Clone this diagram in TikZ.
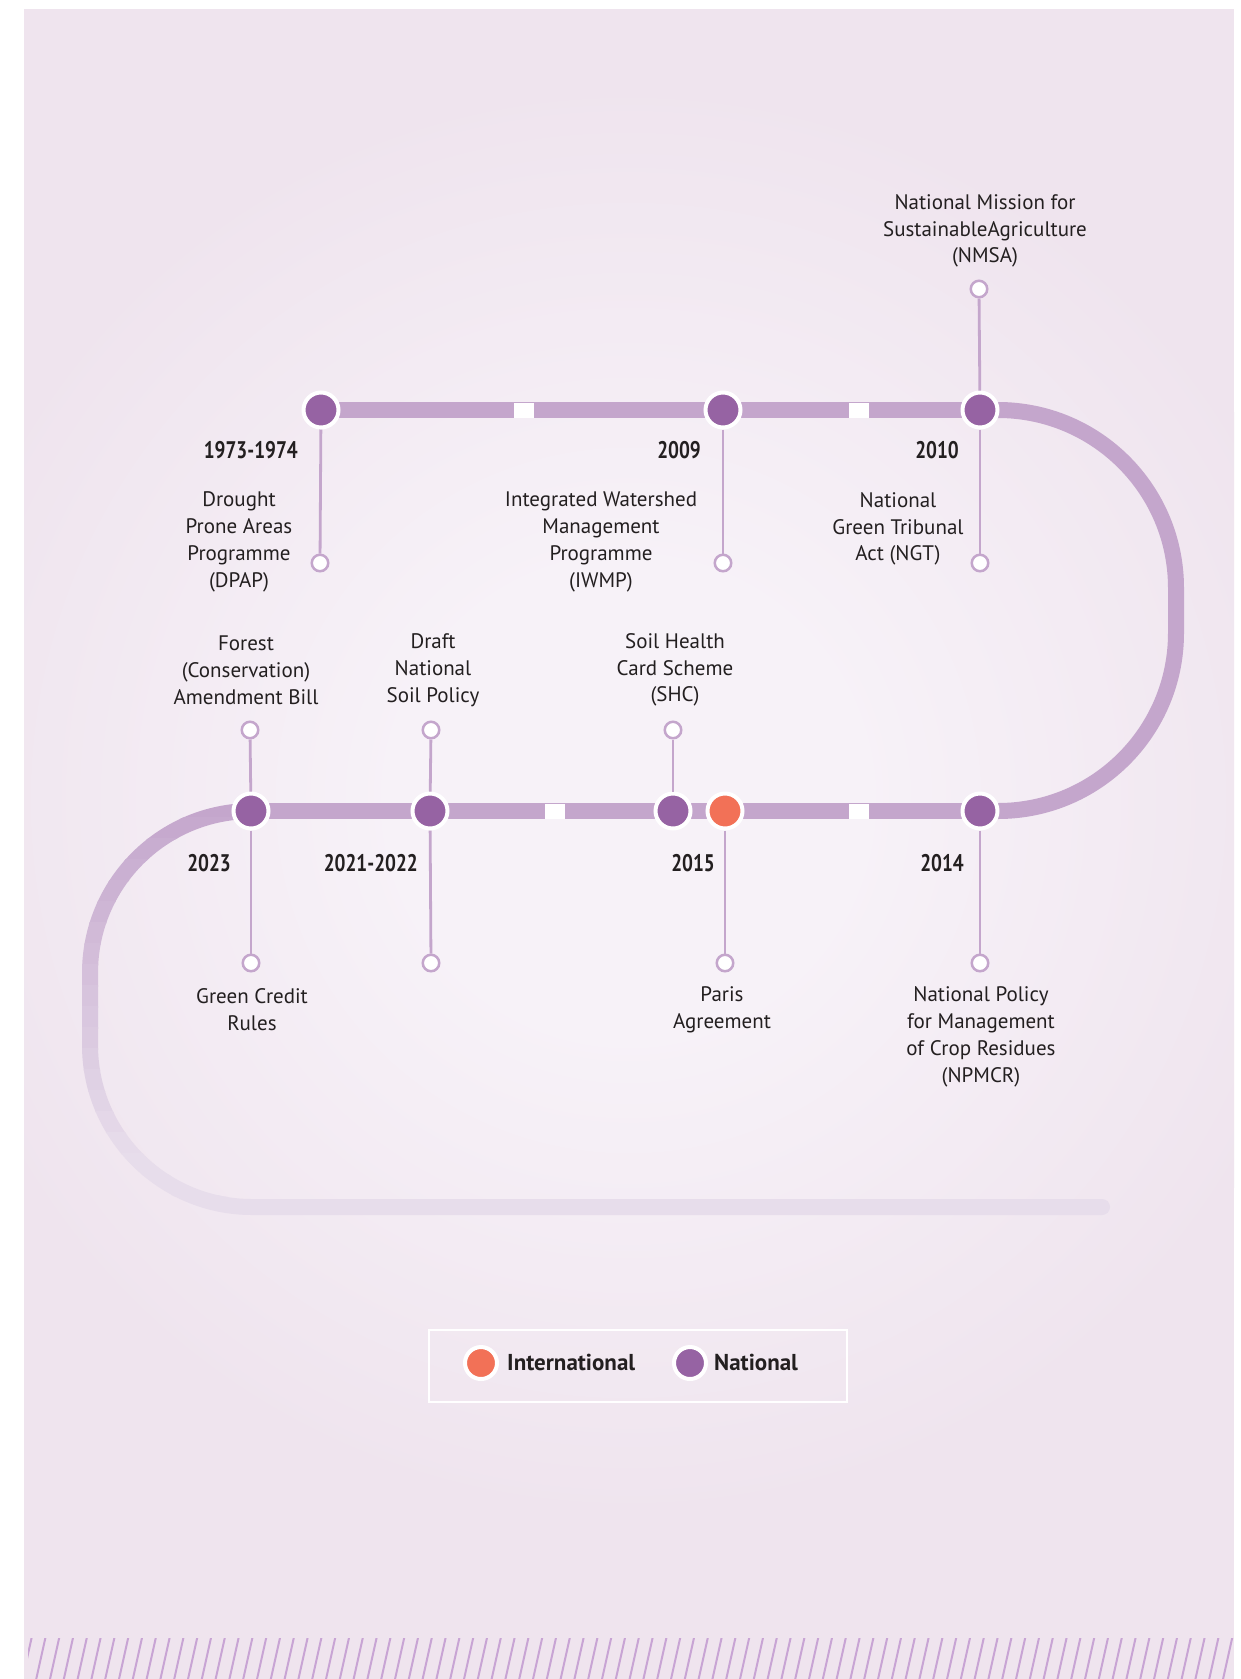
\documentclass[tikz,border=0pt]{standalone}
\usepackage{fontspec}
\setmainfont{PT Sans}
\newfontfamily\yearfont[FakeStretch=0.8]{PT Sans}
\definecolor{bgout}{HTML}{EFE4EE}
\definecolor{bgin}{HTML}{F7F2F8}
\definecolor{track}{HTML}{C4A6CC}
\definecolor{trackfade}{HTML}{E7DDEB}
\definecolor{natl}{HTML}{9663A3}
\definecolor{intl}{HTML}{F27157}
\definecolor{ink}{HTML}{231F20}
\definecolor{hatchcol}{HTML}{C8A4D4}
\pgfdeclareradialshading{bgglow}{\pgfpoint{0bp}{0bp}}{color(0bp)=(bgin); color(8bp)=(bgin); color(25bp)=(bgout); color(50bp)=(bgout)}
\tikzset{
  national/.style={circle, fill=natl, draw=white, line width=4pt, minimum size=35pt, inner sep=0pt},
  international/.style={national, fill=intl},
  tipdot/.style={circle, fill=white, draw=track, line width=2.5pt, minimum size=16.5pt, inner sep=0pt},
  stem/.style={draw=track, line width=2.8pt},
  trackline/.style={line width=16pt},
  gapbox/.style={fill=white, minimum width=20pt, minimum height=15pt, inner sep=0pt},
  yearlabel/.style={font=\yearfont\bfseries\fontsize{24}{28}\selectfont, text=ink, anchor=east, inner sep=0pt},
  desc/.style={font=\fontsize{21}{26.8}\selectfont, text=ink, align=center, inner sep=0pt},
  legendtext/.style={font=\bfseries\fontsize{23}{28}\selectfont, text=ink, anchor=west, inner sep=0pt},
  hatchline/.style={draw=hatchcol, line width=2pt},
}
\begin{document}
\begin{tikzpicture}[x=1pt,y=-1pt]
\useasboundingbox (0,0) rectangle (1240,1679);
\fill[white] (0,0) rectangle (1240,1679);
% background
\fill[bgout] (24,9) rectangle (1234,1679);
\begin{scope}
  \clip (24,9) rectangle (1234,1679);
  \shade[shading=bgglow] (628,800) circle (720);
\end{scope}
% hatch band
\begin{scope}
  \clip (28,1638) rectangle (1234,1679);
  \foreach \k in {0,...,90} {
    \draw[hatchline] ({22+\k*13.8},1681) -- ({32+\k*13.8},1636);
  }
\end{scope}
% positions
\coordinate (p1973) at (321,410);
\coordinate (p2009) at (723,410);
\coordinate (p2010) at (980,410);
\coordinate (p2023) at (251,811);
\coordinate (p2021) at (430,811);
\coordinate (pshc) at (673,811);
\coordinate (pparis) at (725,811);
\coordinate (p2014) at (980,811);
\coordinate (trackend) at (1102,1207);
% track
\draw[trackline, draw=track] (p1973) -- (p2010);
\draw[trackline, draw=track, rounded corners=178pt] (p2010) -- (1176,410) -- (1176,811) -- (p2014);
\draw[trackline, draw=track] (p2023) -- (p2014);
\foreach \i in {0,...,19} {
  \pgfmathsetmacro\pc{min(100,\i*6)}
  \colorlet{bandcol}{trackfade!\pc!track}
  \begin{scope}
    \clip (0,{796+\i*21}) rectangle (1240,{818+\i*21});
    \draw[trackline, draw=bandcol, line cap=round, rounded corners=162pt] (p2023) -- (90,811) -- (90,1207) -- (trackend);
  \end{scope}
}
% gaps
\node[gapbox] (g1) at (524,410) {};
\node[gapbox] (g2) at (859,410) {};
\node[gapbox] (g3) at (555,811) {};
\node[gapbox] (g4) at (859,811) {};
% tips
\node[tipdot] (t1973) at (320,563) {};
\node[tipdot] (t2009) at (723,563) {};
\node[tipdot] (t2010d) at (980,563) {};
\node[tipdot] (t2010u) at (979,289) {};
\node[tipdot] (t2023u) at (250,730) {};
\node[tipdot] (t2021u) at (431,730) {};
\node[tipdot] (tshc) at (673,730) {};
\node[tipdot] (t2023d) at (251,963) {};
\node[tipdot] (t2021d) at (431,963) {};
\node[tipdot] (tparis) at (725,963) {};
\node[tipdot] (t2014) at (980,963) {};
% dots
\node[national] (d1973) at (p1973) {};
\node[national] (d2009) at (p2009) {};
\node[national] (d2010) at (p2010) {};
\node[national] (d2023) at (p2023) {};
\node[national] (d2021) at (p2021) {};
\node[national] (dshc) at (pshc) {};
\node[international] (dparis) at (pparis) {};
\node[national] (d2014) at (p2014) {};
% stems
\draw[stem] (d1973) -- (t1973);
\draw[stem] (d2009) -- (t2009);
\draw[stem] (d2010) -- (t2010d);
\draw[stem] (d2010) -- (t2010u);
\draw[stem] (d2023) -- (t2023u);
\draw[stem] (d2021) -- (t2021u);
\draw[stem] (dshc) -- (tshc);
\draw[stem] (d2023) -- (t2023d);
\draw[stem] (d2021) -- (t2021d);
\draw[stem] (dparis) -- (tparis);
\draw[stem] (d2014) -- (t2014);
% years
\node[yearlabel] (y1973) at (298,450) {1973-1974};
\node[yearlabel] (y2009) at (701,450) {2009};
\node[yearlabel] (y2010) at (959,450) {2010};
\node[yearlabel] (y2023) at (231,863) {2023};
\node[yearlabel] (y2021) at (418,863) {2021-2022};
\node[yearlabel] (y2015) at (715,863) {2015};
\node[yearlabel] (y2014) at (964,863) {2014};
% descriptions
\node[desc] (nmsa) at (985,231) {National Mission for\\SustainableAgriculture\\(NMSA)};
\node[desc] (dpap) at (239,542) {Drought\\Prone Areas\\Programme\\(DPAP)};
\node[desc] (iwmp) at (601,542) {Integrated Watershed\\Management\\Programme\\(IWMP)};
\node[desc] (ngt) at (898,529) {National\\Green Tribunal\\Act (NGT)};
\node[desc] (forest) at (246,670) {Forest\\(Conservation)\\Amendment Bill};
\node[desc] (draft) at (433,670) {Draft\\National\\Soil Policy};
\node[desc] (shc) at (675,670) {Soil Health\\Card Scheme\\(SHC)};
\node[desc] (gcr) at (252,1010) {Green Credit\\Rules};
\node[desc] (paris) at (722,1010) {Paris\\Agreement};
\node[desc] (npmcr) at (981,1037) {National Policy\\for Management\\of Crop Residues\\(NPMCR)};
% legend
\node[draw=white, line width=2.2pt, minimum width=418pt, minimum height=72pt, inner sep=0pt] (legend) at (638,1366) {};
\node[international, minimum size=32pt] (lint) at (481,1363) {};
\node[legendtext] (lintt) at (507,1362) {International};
\node[national, minimum size=32pt] (lnat) at (690,1363) {};
\node[legendtext] (lnatt) at (714,1362) {National};
\end{tikzpicture}
\end{document}
